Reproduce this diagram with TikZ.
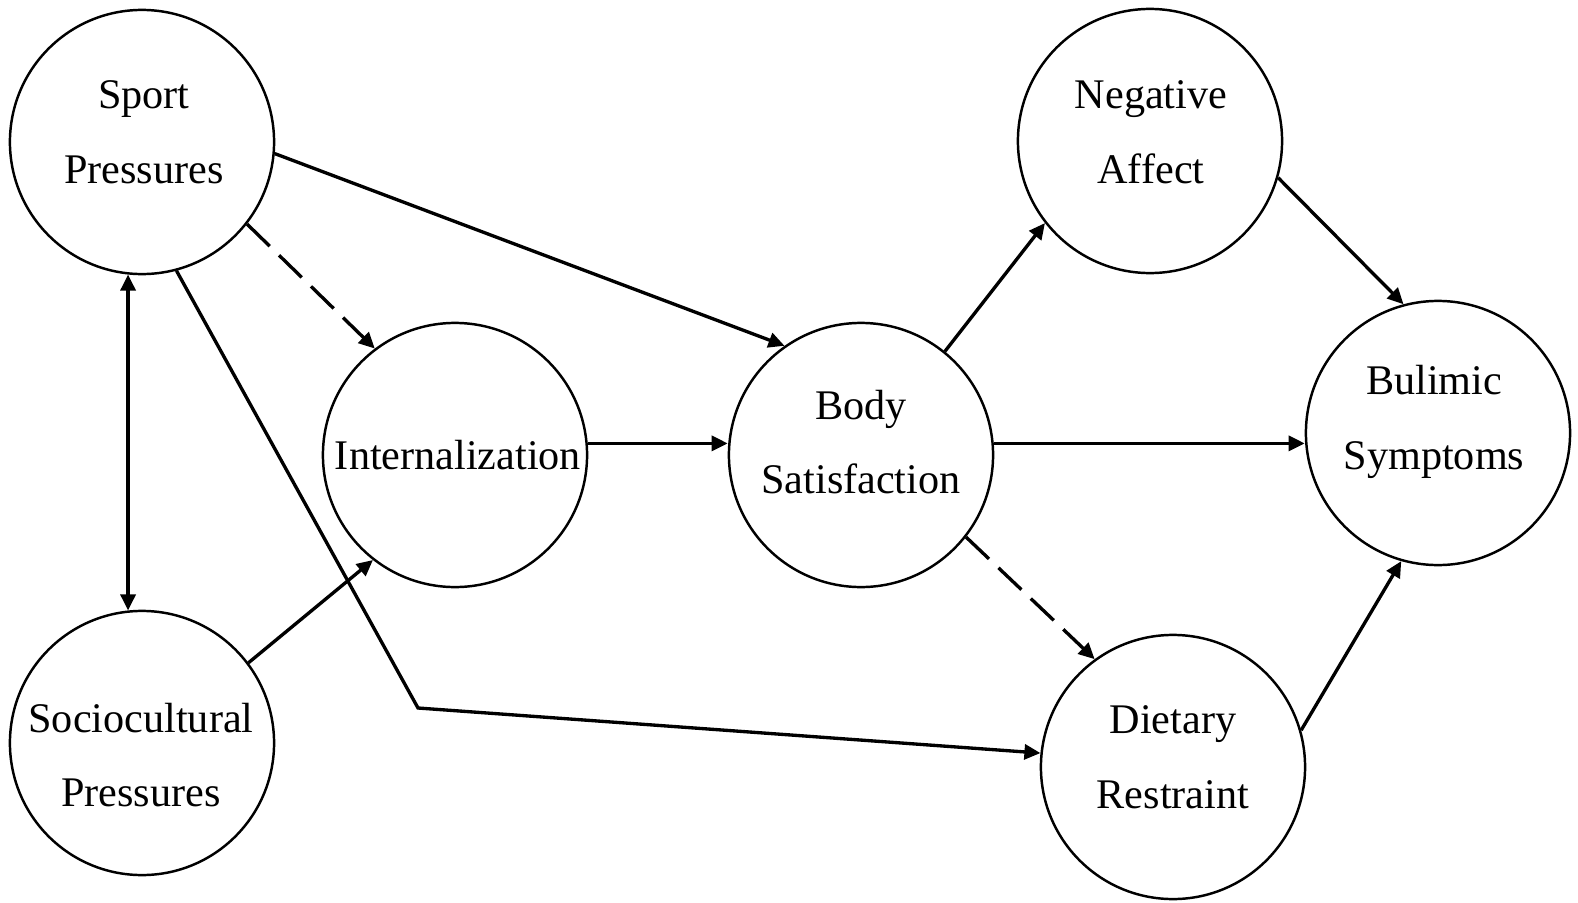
\documentclass[tikz,border=0pt]{standalone}
\usepackage{fontspec}
\setmainfont{Liberation Serif}
\usetikzlibrary{arrows.meta}
\begin{document}
\begin{tikzpicture}[x=0.01cm,y=-0.01cm,
  bub/.style={draw,circle,line width=0.7pt,minimum size=2.64cm,inner sep=0pt},
  txt/.style={align=center,font=\fontsize{12}{21.2}\selectfont,inner sep=0pt},
  conn/.style={line width=0.95pt,-{Triangle[length=1.6mm,width=1.5mm]}},
  dconn/.style={conn,dash pattern=on 9pt off 3.7pt}]
\useasboundingbox (0,0) rectangle (1578,903);
\node[bub] (sport) at (142,142) {};
\node[bub] (socio) at (142,743) {};
\node[bub] (intern) at (455,455) {};
\node[bub] (body) at (861,455) {};
\node[bub] (neg) at (1150,141) {};
\node[bub] (bul) at (1438,433) {};
\node[bub] (diet) at (1173,767) {};
\node[txt] (sportT) at (144,132) {Sport\\Pressures};
\node[txt] (socioT) at (141,755) {Sociocultural\\Pressures};
\node[txt] (internT) at (458,455) {Internalization};
\node[txt] (bodyT) at (861,442) {Body\\Satisfaction};
\node[txt] (negT) at (1151,132) {Negative\\Affect};
\node[txt] (bulT) at (1434,422) {Bulimic\\Symptoms};
\node[txt] (dietT) at (1173,757) {Dietary\\Restraint};
\coordinate (bend) at (418,708);
\draw[conn,{Triangle[length=1.6mm,width=1.5mm]}-{Triangle[length=1.6mm,width=1.5mm]}] (sport.264) -- (socio.96);
\draw[conn] (sport.-5.6) -- (body.125);
\draw[dconn] (sport.-38.8) -- (intern.127);
\draw[conn] (sport.-75) -- (bend) -- (diet.174.8);
\draw[conn] (socio.37.6) -- (intern.232.3);
\draw[conn] (intern.5.7) -- (intern.5.7 -| body.west);
\draw[conn] (body.5.7) -- (body.5.7 -| bul.west);
\draw[conn] (body.51.5) -- (neg.218.7);
\draw[dconn] (body.-38.2) -- (diet.126.5);
\draw[conn] (neg.-16.9) -- (bul.105);
\draw[conn] (diet.16.2) -- (bul.254.3);
\end{tikzpicture}
\end{document}
